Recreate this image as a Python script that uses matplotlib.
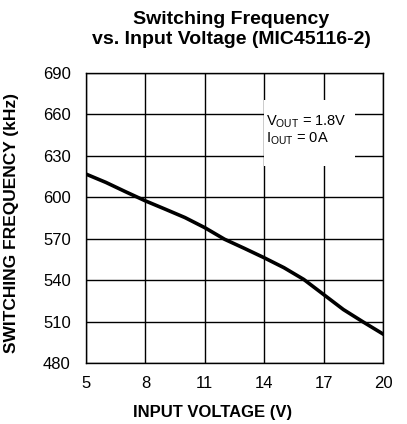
import numpy as np
import matplotlib
matplotlib.use("Agg")
import matplotlib.pyplot as plt
from matplotlib.patches import Rectangle

# -----------------------------------------
# Data
# -----------------------------------------
vin = [5, 6, 7, 8, 9, 10, 11, 12, 13, 14, 15, 16, 17, 18, 19, 20]
fsw = [616.8, 610.8, 604.0, 597.4, 591.4, 585.3, 578.0, 569.6, 563.0,
       556.2, 549.0, 540.5, 529.6, 518.7, 509.7, 501.0]

x_ticks = [5, 8, 11, 14, 17, 20]
y_ticks = [480, 510, 540, 570, 600, 630, 660, 690]

# -----------------------------------------
# Style
# -----------------------------------------
plt.rcParams["font.family"] = ["Liberation Sans", "DejaVu Sans"]
plt.rcParams["mathtext.fontset"] = "custom"
plt.rcParams["mathtext.rm"] = "Liberation Sans"

fig = plt.figure(figsize=(4.07, 4.24), dpi=100)
ax = fig.add_axes([86 / 407, 1 - 363 / 424, 297 / 407, 290 / 424])

ax.plot(vin, fsw, color="black", linewidth=2.6, zorder=3)

ax.set_xlim(5, 20)
ax.set_ylim(480, 690)
ax.set_xticks(x_ticks)
ax.set_yticks(y_ticks)
ax.tick_params(length=0, labelsize=12)
ax.tick_params(axis="y", pad=11)
ax.tick_params(axis="x", pad=9)
ax.grid(True, color="black", linewidth=1.0)
for s in ax.spines.values():
    s.set_linewidth(1.0)

# white box covering the grid behind the annotation
ax.add_patch(Rectangle((14.0, 622.7), 4.6, 47.7,
                       facecolor="white", edgecolor="none", zorder=2.5))
ax.text(14.1, 660.5, "V$_{\\mathrm{OUT}}$ = 1.8V\nI$_{\\mathrm{OUT}}$ = 0A",
        fontsize=10.5, va="top", ha="left", linespacing=1.0, zorder=4)

ax.set_xlabel("INPUT VOLTAGE (V)", fontsize=12, fontweight="bold")
ax.xaxis.set_label_coords((213 - 86) / 297, -0.145)
ax.set_ylabel("SWITCHING FREQUENCY (kHz)", fontsize=12.5, fontweight="bold")
ax.yaxis.set_label_coords(-0.225, (363 - 223) / 290)
ax.set_title("Switching Frequency\nvs. Input Voltage (MIC45116-2)",
             fontsize=14, fontweight="bold", pad=21, linespacing=1.2,
             x=(231 - 86) / 297)

fig.savefig("out.png", dpi=100)
